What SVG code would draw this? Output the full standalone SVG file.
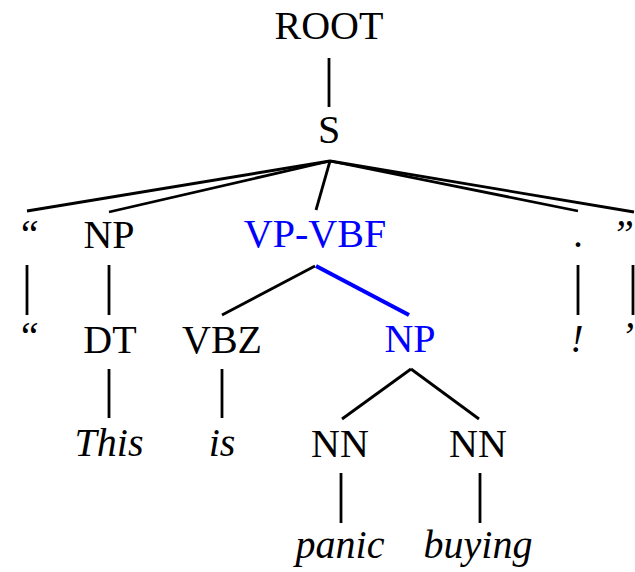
<svg xmlns="http://www.w3.org/2000/svg" width="635" height="572" viewBox="0 0 635 572">
<style>
text{font-family:"Liberation Serif","Times New Roman",serif;font-size:40px;text-anchor:middle;fill:#000}
.leaf{font-style:italic}
.hl{fill:#0000ff}
.end{text-anchor:end}
.e{stroke:#000;stroke-width:2.8;fill:none}
.eb{stroke:#0000ff;stroke-width:4.2;fill:none}
</style>
<rect width="635" height="572" fill="#fff"/>
<g id="edges">
<line class="e" x1="329" y1="58" x2="329" y2="107"/>
<line class="e" x1="330" y1="161" x2="27" y2="211"/>
<line class="e" x1="330" y1="161" x2="109" y2="212"/>
<line class="e" x1="330" y1="161" x2="316" y2="210"/>
<line class="e" x1="330" y1="161" x2="578" y2="211"/>
<line class="e" x1="330" y1="161" x2="634" y2="212"/>
<line class="e" x1="27" y1="265" x2="27" y2="315"/>
<line class="e" x1="109" y1="265" x2="109" y2="315"/>
<line class="e" x1="578" y1="265" x2="578" y2="315"/>
<line class="e" x1="633" y1="265" x2="633" y2="315"/>
<line class="e" x1="315" y1="266" x2="222" y2="315"/>
<line class="eb" x1="316" y1="266" x2="409" y2="315"/>
<line class="e" x1="109" y1="369" x2="109" y2="418"/>
<line class="e" x1="222" y1="369" x2="222" y2="418"/>
<line class="e" x1="411" y1="369" x2="342" y2="419"/>
<line class="e" x1="411" y1="369" x2="479" y2="419"/>
<line class="e" x1="341" y1="473" x2="341" y2="523"/>
<line class="e" x1="480" y1="473" x2="480" y2="523"/>
</g>
<g id="n-root"><text x="329" y="39">ROOT</text></g>
<g id="n-s"><text x="329" y="143">S</text></g>
<g id="n-q1"><text x="28" y="247" class="leaf">“</text></g>
<g id="n-np1"><text x="109" y="248">NP</text></g>
<g id="n-vp"><text x="315" y="247" class="hl">VP-VBF</text></g>
<g id="n-dot"><text x="578" y="247">.</text></g>
<g id="n-q2"><text x="634" y="247" class="leaf end">”</text></g>
<g id="n-w1"><text x="28" y="349" class="leaf">“</text></g>
<g id="n-dt"><text x="110" y="353">DT</text></g>
<g id="n-vbz"><text x="222" y="353">VBZ</text></g>
<g id="n-np2"><text x="410" y="352" class="hl">NP</text></g>
<g id="n-excl"><text x="577" y="352" class="leaf">!</text></g>
<g id="n-w2"><text x="634" y="349" class="leaf end">’</text></g>
<g id="n-this"><text x="109" y="456" class="leaf">This</text></g>
<g id="n-is"><text x="222" y="456" class="leaf">is</text></g>
<g id="n-nn1"><text x="340" y="457">NN</text></g>
<g id="n-nn2"><text x="478" y="457">NN</text></g>
<g id="n-panic"><text x="340" y="558" class="leaf">panic</text></g>
<g id="n-buying"><text x="478" y="558" class="leaf">buying</text></g>
</svg>
